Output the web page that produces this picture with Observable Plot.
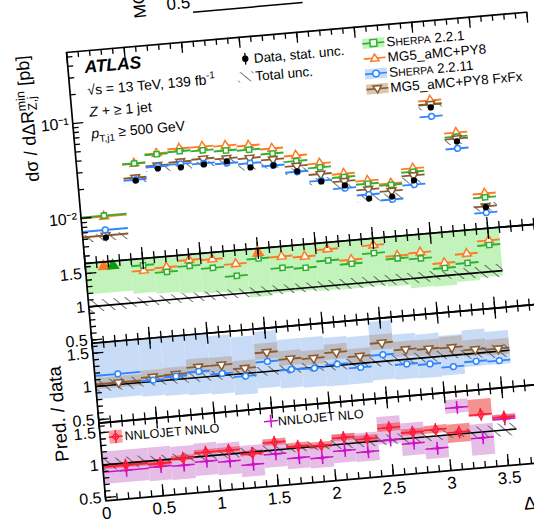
<!DOCTYPE html>
<html><head><meta charset="utf-8">
<script src="https://cdn.jsdelivr.net/npm/d3@7"></script>
<script src="https://cdn.jsdelivr.net/npm/@observablehq/plot@0.6"></script>
<style>
html,body{margin:0;padding:0;background:#fff;}
body{width:534px;height:519px;overflow:hidden;position:relative;font-family:"Liberation Sans",Arial,sans-serif;}
#fig{position:absolute;top:52px;}
#fig svg{overflow:visible;}
</style></head>
<body>
<svg width="0" height="0" style="position:absolute">
<defs>
<pattern id="hatch" patternUnits="userSpaceOnUse" width="8" height="8" patternTransform="rotate(-45)">
<line x1="0" y1="0" x2="0" y2="8" stroke="#333" stroke-width="1.4"/>
</pattern></defs></svg>
<div id="fig"></div>
<script>
// ---------- data ----------
const binLo = [0,0.4,0.6,0.8,1.0,1.2,1.4,1.6,1.8,2.0,2.2,2.4,2.6,2.8,3.0,3.2,3.4];
const binHi = [0.4,0.6,0.8,1.0,1.2,1.4,1.6,1.8,2.0,2.2,2.4,2.6,2.8,3.0,3.2,3.4,3.6];
// main panel cross sections [pb]
const dataXs     = [0.0060,0.0222,0.0283,0.0277,0.0283,0.0290,0.0239,0.0239,0.0197,0.0147,0.0127,0.0088,0.0088,0.0124,0.0693,0.0289,0.0056];
const sherpa221  = [0.0102,0.0336,0.0400,0.0410,0.0399,0.0378,0.0367,0.0319,0.0253,0.0207,0.0156,0.0126,0.0117,0.0153,0.0745,0.0325,0.0071];
const mg5        = [0.0100,0.0336,0.0407,0.0438,0.0437,0.0426,0.0407,0.0360,0.0290,0.0228,0.0169,0.0136,0.0121,0.0166,0.0820,0.0358,0.0078];
const sherpa2211 = [0.0072,0.0226,0.0297,0.0302,0.0291,0.0278,0.0265,0.0239,0.0195,0.0150,0.0119,0.0097,0.0082,0.0112,0.0558,0.0244,0.0049];
const fxfx       = [0.0063,0.0238,0.0305,0.0318,0.0325,0.0313,0.0300,0.0277,0.0225,0.0176,0.0141,0.0110,0.0101,0.0140,0.0750,0.0310,0.0057];
// relative total uncertainty of data
const totUnc     = [0.09,0.07,0.07,0.07,0.07,0.07,0.07,0.07,0.07,0.08,0.08,0.08,0.08,0.08,0.06,0.08,0.10];
// ratio panel 1
const rSherpa221 = [1.70,1.55,1.42,1.48,1.42,1.27,1.50,1.33,1.30,1.38,1.30,1.43,1.32,1.29,1.115,1.16,1.40];
const rMg5       = [1.68,1.47,1.49,1.57,1.55,1.45,1.70,1.50,1.47,1.55,1.36,1.55,1.36,1.38,1.19,1.30,1.47];
const s221Low    = [1.18,1.13,1.10,1.07,1.04,1.02,0.92,0.95,0.95,0.93,0.92,0.93,0.90,0.85,0.84,0.88,0.92];
const s221High   = [2.00,2.00,2.00,2.00,2.00,2.00,2.00,2.00,2.00,2.00,2.00,2.00,2.00,2.00,2.00,2.00,2.00];
// ratio panel 2
const rSherpa2211= [1.16,1.02,1.05,1.09,1.03,0.96,1.15,1.00,0.99,1.02,0.94,1.10,0.93,0.90,0.83,0.88,0.86];
const rFxfx      = [1.03,1.07,1.08,1.16,1.16,1.08,1.29,1.16,1.14,1.20,1.11,1.28,1.15,1.13,1.12,1.06,1.04];
const s2211Low   = [0.80,0.78,0.76,0.74,0.72,0.68,0.75,0.72,0.70,0.69,0.69,0.72,0.70,0.69,0.70,0.80,0.80];
const s2211High  = [1.70,1.70,1.66,1.66,1.60,1.55,1.60,1.45,1.45,1.42,1.40,1.60,1.38,1.35,1.30,1.35,1.30];
const fxfxLow    = [0.95,0.98,0.99,1.05,1.05,0.98,1.18,1.06,1.04,1.09,1.01,1.17,1.04,1.02,1.00,0.96,0.94];
const fxfxHigh   = [1.12,1.17,1.18,1.28,1.27,1.19,1.42,1.28,1.25,1.32,1.22,1.40,1.27,1.26,1.28,1.20,1.18];
// ratio panel 3
const rNnlo      = [0.97,0.95,1.00,1.06,1.06,0.98,1.12,1.03,1.01,1.10,1.05,1.19,1.09,1.10,1.03,1.27,1.20];
const rNlo       = [0.89,0.90,0.89,0.92,0.89,0.81,0.94,0.85,0.82,0.90,0.85,1.00,0.92,0.81,1.41,0.91,1.17];
const nnloLow    = [0.93,0.91,0.96,1.02,1.02,0.94,1.07,0.98,0.96,1.05,1.00,1.13,1.04,1.04,0.87,1.24,1.17];
const nnloHigh   = [1.01,0.99,1.04,1.10,1.10,1.02,1.17,1.08,1.06,1.15,1.10,1.25,1.14,1.16,1.15,1.50,1.23];
const nloLow     = [0.70,0.68,0.67,0.70,0.68,0.62,0.73,0.68,0.66,0.71,0.70,0.94,0.73,0.65,1.32,0.64,1.15];
const nloHigh    = [1.20,1.20,1.18,1.20,1.17,1.10,1.14,1.00,0.98,1.15,1.14,1.36,1.23,1.00,1.53,1.12,1.24];
// axes
const xDomain = [0, 4.0];
const xMajor = [0,0.5,1,1.5,2,2.5,3,3.5,4];
const xLabelTicks = [0,0.5,1,1.5,2,2.5,3,3.5];
const xLabels = ["0","0.5","1","1.5","2","2.5","3","3.5"];
const mainYDomain = [0.00334, 0.56];
const mainYTicks = [0.01, 0.1];
const mainYLabels = ["10\u207B\u00B2", "10\u207B\u00B9"];
const mainYMinor = [0.004,0.005,0.006,0.007,0.008,0.009,0.02,0.03,0.04,0.05,0.06,0.07,0.08,0.09,0.2,0.3,0.4,0.5];
const ratioDomain = [0.45, 1.65];
const ratioTicks = [0.5, 1, 1.5];
const ratioLabels = ["0.5", "1", "1.5"];
const ratioMinor = [0.5,0.6,0.7,0.8,0.9,1.0,1.1,1.2,1.3,1.4,1.5,1.6];

// ---------- layout ----------
const ML = 80, MR = 20, PX = 115.5;
const FW = PX * (xDomain[1] - xDomain[0]);
const W = ML + FW + MR;
const H_MAIN = 212, H_R1 = 80, H_R2 = 80, H_R3 = 78, MB = 60;
const FONT = "Liberation Sans, Arial, sans-serif";
const STYLE = {background: "transparent", overflow: "visible", fontFamily: FONT, color: "#000", maxWidth: "none"};
const GREEN = "#2fb02f", ORANGE = "#ff7a22", BLUE = "#2f86ff", BROWN = "#8a5a30", MAGENTA = "#cc11cc", RED = "#ff1a3c";
const OFF_Y = 1.585;

const xMinor = d3.range(0, 40.5, 1).map(d => d / 10);

const rows = binLo.map((lo, i) => ({
  lo, hi: binHi[i], c: (lo + binHi[i]) / 2,
  data: dataXs[i], s221: sherpa221[i], mg5: mg5[i], s2211: sherpa2211[i], fxfx: fxfx[i], tot: totUnc[i],
  rS221: rSherpa221[i], rMg5: rMg5[i], s221Low: s221Low[i], s221High: s221High[i],
  rS2211: rSherpa2211[i], rFxfx: rFxfx[i], s2211Low: s2211Low[i], s2211High: s2211High[i], fxLow: fxfxLow[i], fxHigh: fxfxHigh[i],
  rNnlo: rNnlo[i], rNlo: rNlo[i], nnloLow: nnloLow[i], nnloHigh: nnloHigh[i], nloLow: nloLow[i], nloHigh: nloHigh[i]
}));

function frameMarks(yBot, yTop, H, yMaj, yMin) {
  const L = 11, S = 6, sw = 1.3;
  return [
    Plot.ruleX(xMajor, {insetTop: H - L, stroke: "#000", strokeWidth: sw}),
    Plot.ruleX(xMinor, {insetTop: H - S, stroke: "#000", strokeWidth: sw}),
    Plot.ruleX(xMajor, {insetBottom: H - L, stroke: "#000", strokeWidth: sw}),
    Plot.ruleX(xMinor, {insetBottom: H - S, stroke: "#000", strokeWidth: sw}),
    Plot.ruleY(yMaj, {insetRight: FW - L, stroke: "#000", strokeWidth: sw}),
    Plot.ruleY(yMin, {insetRight: FW - S, stroke: "#000", strokeWidth: sw}),
    Plot.ruleY([yBot, yTop], {stroke: "#000", strokeWidth: 1.7}),
    Plot.ruleX([xDomain[0]], {stroke: "#000", strokeWidth: 1.7})
  ];
}

function series(y, color, symbol, rot = 0, r = 3.2) {
  return [
    Plot.ruleY(rows, {x1: "lo", x2: "hi", y, stroke: color, strokeWidth: 1.9, clip: true}),
    Plot.dot(rows, {x: "c", y, symbol, r, rotate: rot, stroke: color, fill: "white", strokeWidth: 1.5, clip: true})
  ];
}

function ratioAxis() {
  return Plot.axisY({ticks: ratioTicks, tickFormat: d => ratioLabels[ratioTicks.indexOf(d)], tickSize: 0, tickPadding: 4, fontSize: 16, label: null});
}

const fig = document.getElementById("fig");
fig.style.left = (66 - ML) + "px";
fig.style.width = W + "px";
fig.style.transformOrigin = ML + "px 0px";
fig.style.transform = "rotate(-5deg)";

// ---------- main panel ----------
fig.append(Plot.plot({
  width: W, height: H_MAIN, marginLeft: ML, marginRight: MR, marginTop: 0, marginBottom: 0,
  style: STYLE,
  x: {domain: xDomain, axis: null},
  y: {type: "log", domain: mainYDomain},
  marks: [
    Plot.rect(rows, {x1: "lo", x2: "hi", y1: d => d.data * (1 - d.tot), y2: d => d.data * (1 + d.tot), fill: "url(#hatch)", clip: true}),
    ...series("mg5", ORANGE, "triangle", 0, 3.3),
    ...series("s221", GREEN, "square", 0, 2.9),
    ...series("fxfx", BROWN, "triangle", 180, 3.3),
    ...series("s2211", BLUE, "circle", 0, 2.9),
    Plot.dot(rows, {x: "c", y: "data", r: 3.1, fill: "#000", clip: true}),
    Plot.axisY({ticks: mainYTicks, tickFormat: d => mainYLabels[mainYTicks.indexOf(d)], tickSize: 0, tickPadding: 4, fontSize: 16, label: null}),
    ...frameMarks(mainYDomain[0], mainYDomain[1], H_MAIN, mainYTicks, mainYMinor)
  ]
}));

// ---------- ratio 1 ----------
fig.append(Plot.plot({
  width: W, height: H_R1, marginLeft: ML, marginRight: MR, marginTop: 0, marginBottom: 0,
  style: STYLE,
  x: {domain: xDomain, axis: null},
  y: {domain: ratioDomain},
  marks: [
    Plot.rect(rows, {x1: "lo", x2: "hi", y1: "s221Low", y2: "s221High", fill: "#c2f3bb", clip: true}),
    Plot.rect(rows, {x1: "lo", x2: "hi", y1: d => 1 - d.tot, y2: d => 1 + d.tot, fill: "url(#hatch)", clip: true}),
    Plot.ruleY(rows, {x1: "lo", x2: "hi", y: () => 1, stroke: "#000", strokeWidth: 1.6}),
    ...series("rMg5", ORANGE, "triangle", 0, 3.3),
    ...series("rS221", GREEN, "square", 0, 2.9),
    Plot.dot(rows.filter(d => d.rMg5 > ratioDomain[1]), {x: d => d.rS221 > ratioDomain[1] ? d.c - 0.04 : d.c, y: () => OFF_Y, symbol: "triangle", r: 3.8, fill: ORANGE, stroke: ORANGE}),
    Plot.dot(rows.filter(d => d.rS221 > ratioDomain[1]), {x: d => d.rMg5 > ratioDomain[1] ? d.c + 0.04 : d.c, y: () => OFF_Y, symbol: "triangle", r: 3.8, fill: "#119911", stroke: "#119911"}),
    ratioAxis(),
    ...frameMarks(ratioDomain[0], ratioDomain[1], H_R1, ratioTicks, ratioMinor)
  ]
}));

// ---------- ratio 2 ----------
fig.append(Plot.plot({
  width: W, height: H_R2, marginLeft: ML, marginRight: MR, marginTop: 0, marginBottom: 0,
  style: STYLE,
  x: {domain: xDomain, axis: null},
  y: {domain: ratioDomain},
  marks: [
    Plot.rect(rows, {x1: "lo", x2: "hi", y1: "s2211Low", y2: "s2211High", fill: "#c9dcf7", clip: true}),
    Plot.rect(rows, {x1: "lo", x2: "hi", y1: "fxLow", y2: "fxHigh", fill: "#a88060", fillOpacity: 0.35, clip: true}),
    Plot.rect(rows, {x1: "lo", x2: "hi", y1: d => 1 - d.tot, y2: d => 1 + d.tot, fill: "url(#hatch)", clip: true}),
    Plot.ruleY(rows, {x1: "lo", x2: "hi", y: () => 1, stroke: "#000", strokeWidth: 1.6}),
    ...series("rFxfx", BROWN, "triangle", 180, 3.3),
    ...series("rS2211", BLUE, "circle", 0, 2.9),
    ratioAxis(),
    ...frameMarks(ratioDomain[0], ratioDomain[1], H_R2, ratioTicks, ratioMinor)
  ]
}));

// ---------- ratio 3 ----------
fig.append(Plot.plot({
  width: W, height: H_R3 + MB, marginLeft: ML, marginRight: MR, marginTop: 0, marginBottom: MB,
  style: STYLE,
  x: {domain: xDomain},
  y: {domain: ratioDomain},
  marks: [
    Plot.rect(rows, {x1: "lo", x2: "hi", y1: "nloLow", y2: "nloHigh", fill: "#e6bde6", clip: true}),
    Plot.rect(rows, {x1: "lo", x2: "hi", y1: "nnloLow", y2: "nnloHigh", fill: "#f04848", fillOpacity: 0.6, clip: true}),
    Plot.rect(rows, {x1: "lo", x2: "hi", y1: d => 1 - d.tot, y2: d => 1 + d.tot, fill: "url(#hatch)", clip: true}),
    Plot.ruleY(rows, {x1: "lo", x2: "hi", y: () => 1, stroke: "#000", strokeWidth: 1.6}),
    Plot.ruleY(rows, {x1: "lo", x2: "hi", y: "rNlo", stroke: MAGENTA, strokeWidth: 1.5, clip: true}),
    Plot.dot(rows, {x: "c", y: "rNlo", symbol: "plus", r: 4.2, stroke: MAGENTA, strokeWidth: 1.6, clip: true}),
    Plot.dot(rows, {x: "c", y: "rNlo", symbol: "diamond", r: 2, fill: MAGENTA, clip: true}),
    Plot.ruleY(rows, {x1: "lo", x2: "hi", y: "rNnlo", stroke: RED, strokeWidth: 1.6, clip: true}),
    Plot.dot(rows, {x: "c", y: "rNnlo", symbol: "plus", r: 4.2, stroke: RED, strokeWidth: 1.4, clip: true}),
    Plot.dot(rows, {x: "c", y: "rNnlo", symbol: "diamond", r: 3, stroke: RED, fill: "none", strokeWidth: 1.4, clip: true}),
    ratioAxis(),
    Plot.axisX({ticks: xLabelTicks, tickFormat: d => xLabels[xLabelTicks.indexOf(d)], tickSize: 0, tickPadding: 6, fontSize: 17, label: null}),
    ...frameMarks(ratioDomain[0], ratioDomain[1], H_R3, ratioTicks, ratioMinor)
  ]
}));

// ---------- overlay texts & legends ----------
const Y3 = H_MAIN + H_R1 + H_R2; // top of bottom panel
const ov = `
<svg width="${W}" height="${H_MAIN+H_R1+H_R2+H_R3+MB}" style="position:absolute;left:0;top:0;overflow:visible;pointer-events:none">
<g transform="translate(${ML},0)" font-family="${FONT}" fill="#000">
  <line x1="130" x2="240" y1="-28.6" y2="-28.6" stroke="#000" stroke-width="1.5"/>
  <text transform="translate(83,-27) rotate(-90)" font-size="17">MC / Data</text>
  <text x="128" y="-33" text-anchor="end" font-size="17">0.5</text>

  <text x="17" y="22.6" font-size="17.5" font-weight="bold" font-style="italic">ATLAS</text>
  <text x="18" y="44.8" font-size="14">\u221As = 13 TeV, 139 fb<tspan font-size="10" dy="-6">-1</tspan></text>
  <text x="18" y="66.7" font-size="14"><tspan font-style="italic">Z</tspan> + \u2265 1 jet</text>
  <text x="18" y="88.5" font-size="14"><tspan font-style="italic">p</tspan><tspan font-size="10" dy="4">T,j1</tspan><tspan dy="-4"> \u2265 500 GeV</tspan></text>

  <line x1="178" x2="178" y1="16.5" y2="28.3" stroke="#000" stroke-width="1.3"/>
  <circle cx="178" cy="22.4" r="3.2" fill="#000"/>
  <text x="186.5" y="27.3" font-size="13.5">Data, stat. unc.</text>
  <rect x="169" y="35.4" width="16" height="10" fill="url(#hatch)"/>
  <text x="186.5" y="45.3" font-size="13.5">Total unc.</text>

  <rect x="296" y="12.8" width="22" height="10" fill="#c2f3bb"/>
  <line x1="296" x2="318" y1="17.8" y2="17.8" stroke="${GREEN}" stroke-width="1.7"/>
  <rect x="303.6" y="14.4" width="6.8" height="6.8" fill="#fff" stroke="${GREEN}" stroke-width="1.5"/>
  <text x="320" y="22.6" font-size="13.5">S<tspan font-size="10.5">HERPA</tspan> 2.2.1</text>

  <line x1="296" x2="318" y1="33.1" y2="33.1" stroke="${ORANGE}" stroke-width="1.7"/>
  <path d="M307,28.9 L311.2,36 L302.8,36 Z" fill="#fff" stroke="${ORANGE}" stroke-width="1.5"/>
  <text x="320" y="37.9" font-size="13.5">MG5_aMC+PY8</text>

  <rect x="296" y="43.4" width="22" height="10" fill="#c9dcf7"/>
  <line x1="296" x2="318" y1="48.4" y2="48.4" stroke="${BLUE}" stroke-width="1.7"/>
  <circle cx="307" cy="48.4" r="3.3" fill="#fff" stroke="${BLUE}" stroke-width="1.5"/>
  <text x="320" y="53.2" font-size="13.5">S<tspan font-size="10.5">HERPA</tspan> 2.2.11</text>

  <rect x="296" y="58.7" width="22" height="10" fill="#d9c6b2"/>
  <line x1="296" x2="318" y1="63.7" y2="63.7" stroke="${BROWN}" stroke-width="1.7"/>
  <path d="M307,67.9 L311.2,60.8 L302.8,60.8 Z" fill="#fff" stroke="${BROWN}" stroke-width="1.5"/>
  <text x="320" y="68.5" font-size="13.5">MG5_aMC+PY8 FxFx</text>

  <rect x="9.5" y="${Y3+9}" width="13" height="13" fill="#f7a0a0"/>
  <line x1="9" x2="23" y1="${Y3+15.5}" y2="${Y3+15.5}" stroke="${RED}" stroke-width="1.5"/>
  <line x1="16" x2="16" y1="${Y3+9}" y2="${Y3+22}" stroke="${RED}" stroke-width="1.5"/>
  <path d="M16,${Y3+12} L19.5,${Y3+15.5} L16,${Y3+19} L12.5,${Y3+15.5} Z" fill="none" stroke="${RED}" stroke-width="1.3"/>
  <text x="25" y="${Y3+20}" font-size="12.5">NNLOJET NNLO</text>

  <line x1="165" x2="179" y1="${Y3+13.5}" y2="${Y3+13.5}" stroke="${MAGENTA}" stroke-width="1.5"/>
  <line x1="172" x2="172" y1="${Y3+7}" y2="${Y3+20}" stroke="${MAGENTA}" stroke-width="1.5"/>
  <text x="179" y="${Y3+18.5}" font-size="12.5">NNLOJET NLO</text>

  <text id="ytitle" transform="translate(-38,0) rotate(-90)" text-anchor="end" font-size="18">d\u03C3 / d\u0394R<tspan class="sup" font-size="12.5" dy="-7">min</tspan><tspan class="sub" font-size="12.5" dy="11">Z,j</tspan><tspan class="rest" dy="-4"> [pb]</tspan></text>
  <text transform="translate(-33,360) rotate(-90)" text-anchor="middle" font-size="18.5">Pred. / data</text>
  <text id="xtitle" x="${FW}" y="${Y3 + H_R3 + 46}" text-anchor="end" font-size="18">\u0394R<tspan class="sup" font-size="12.5" dy="-7">min</tspan><tspan class="sub" font-size="12.5" dy="11">Z,j</tspan><tspan class="rest" dy="-4"></tspan></text>
</g></svg>`;
fig.insertAdjacentHTML("beforeend", ov);

// stack super/subscripts
for (const id of ["ytitle", "xtitle"]) {
  const t = document.getElementById(id);
  const sup = t.querySelector(".sup"), sub = t.querySelector(".sub"), rest = t.querySelector(".rest");
  const a = sup.getComputedTextLength(), b = sub.getComputedTextLength();
  sub.setAttribute("dx", -a);
  rest.setAttribute("dx", Math.max(0, a - b));
}
</script>
</body></html>
